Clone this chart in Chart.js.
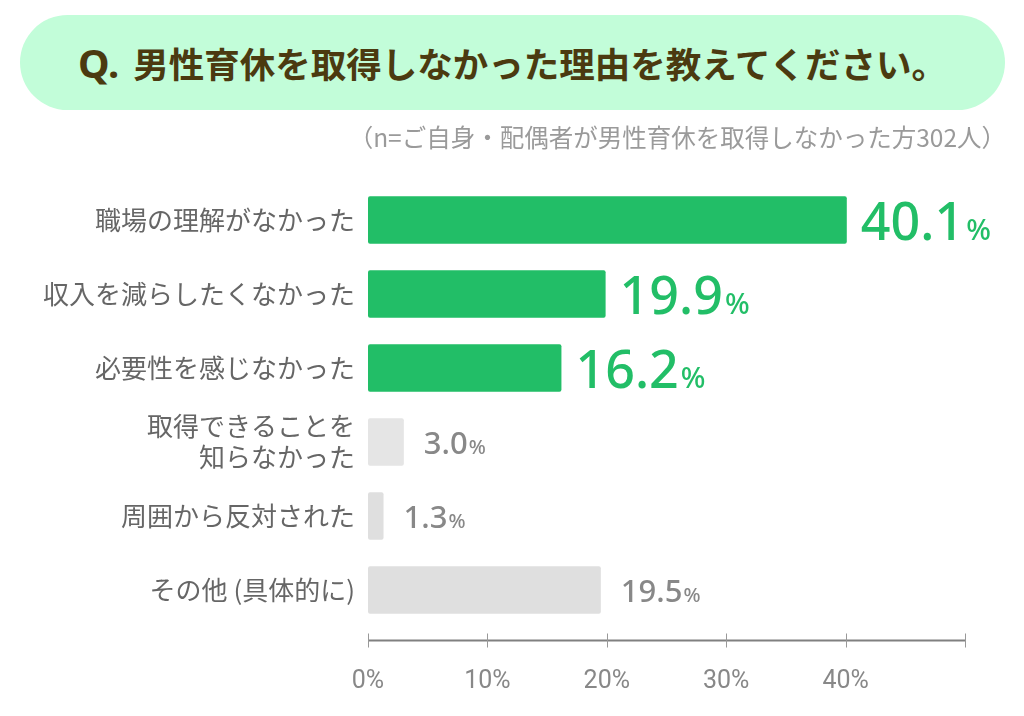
<!DOCTYPE html>
<html lang="ja">
<head>
<meta charset="utf-8">
<script src="https://cdn.jsdelivr.net/npm/chart.js@4/dist/chart.umd.min.js"></script>
<style>
  body { margin: 0; background: #fff; }
  #wrap { position: relative; width: 1024px; height: 716px; overflow: hidden; }
  #chart { position: absolute; left: 0; top: 0; }
  .banner {
    position: absolute; left: 20px; top: 15px; width: 985px; height: 95px;
    border-radius: 48px; background: #c2fdd9;
    display: flex; align-items: center; justify-content: center;
    font-family: "Noto Sans CJK JP", sans-serif; font-weight: bold; color: #4b3a10;
  }
  .banner .q { font-size: 40px; margin-right: 14px; font-family: "Noto Sans", sans-serif; }
  .banner .t { font-size: 35.5px; }
  .note {
    position: absolute; right: 18px; top: 119px;
    font-family: "Noto Sans CJK JP", sans-serif; font-size: 24.5px; color: #9a9a9a;
  }
</style>
</head>
<body>
<div id="wrap">
  <canvas id="chart" width="1024" height="716"></canvas>
  <div class="banner"><span class="q">Q.</span><span class="t">男性育休を取得しなかった理由を教えてください。</span></div>
  <div class="note">（n=ご自身・配偶者が男性育休を取得しなかった方302人）</div>
</div>
<script>
const categories = [
  "職場の理解がなかった",
  "収入を減らしたくなかった",
  "必要性を感じなかった",
  ["取得できることを", "知らなかった"],
  "周囲から反対された",
  "その他 (具体的に)"
]
const percentages = [40.1, 19.9, 16.2, 3.0, 1.3, 19.5]
const xTicks = [0, 10, 20, 30, 40]
const xMax = 50
const highlightCount = 3

const green = "#22be67"
const grayBars = ["#e5e5e5", "#dfdfdf", "#dfdfdf"]
const grayText = "#888888"

const barColors = percentages.map((_, i) => i < highlightCount ? green : grayBars[i - highlightCount])

// axis line with cross ticks, sitting a bit below the plot area
const axisLine = {
  id: "axisLine",
  afterDraw(chart) {
    const { ctx, chartArea } = chart
    const xs = chart.scales.x
    const y0 = chartArea.bottom + 13.5
    ctx.save()
    ctx.strokeStyle = "#808080"
    ctx.lineWidth = 2
    ctx.beginPath()
    ctx.moveTo(xs.getPixelForValue(0), y0)
    ctx.lineTo(xs.getPixelForValue(xMax), y0)
    ctx.stroke()
    ctx.lineWidth = 1
    ctx.strokeStyle = "#999"
    xs.ticks.forEach(t => {
      const px = Math.round(xs.getPixelForValue(t.value)) + 0.5
      ctx.beginPath()
      ctx.moveTo(px, y0 - 7)
      ctx.lineTo(px, y0 + 7)
      ctx.stroke()
    })
    ctx.restore()
  }
}

const valueLabels = {
  id: "valueLabels",
  afterDatasetsDraw(chart) {
    const ctx = chart.ctx
    const meta = chart.getDatasetMeta(0)
    meta.data.forEach((bar, i) => {
      const hi = i < highlightCount
      const num = percentages[i].toFixed(1)
      ctx.save()
      ctx.fillStyle = hi ? green : grayText
      ctx.textBaseline = "alphabetic"
      ctx.textAlign = "left"
      ctx.font = hi ? '500 52px "Noto Sans"' : '500 31px "Noto Sans"'
      let x = bar.x + (hi ? 14 : 20)
      const y = bar.y + (hi ? 19.5 : 11.5)
      ctx.fillText(num, x, y)
      x += ctx.measureText(num).width + (hi ? 2 : 1)
      ctx.font = hi ? '500 29px "Noto Sans"' : '500 20px "Noto Sans"'
      ctx.fillText("%", x, y)
      ctx.restore()
    })
  }
}

new Chart(document.getElementById("chart"), {
  type: "bar",
  data: {
    labels: categories,
    datasets: [{
      data: percentages,
      backgroundColor: barColors,
      borderRadius: 2,
      borderSkipped: false,
      barPercentage: 0.64,
      categoryPercentage: 1
    }]
  },
  options: {
    indexAxis: "y",
    responsive: false,
    animation: false,
    layout: { padding: { top: 183, right: 59, bottom: 0, left: 0 } },
    plugins: { legend: { display: false }, tooltip: { enabled: false } },
    scales: {
      y: {
        afterFit(s) { s.width = 368 },
        grid: { display: false },
        border: { display: false },
        ticks: {
          color: "#666",
          padding: 5,
          font: { family: '"Noto Sans CJK JP", sans-serif', size: 26, lineHeight: 1.2 }
        }
      },
      x: {
        min: 0,
        max: xMax,
        afterFit(s) { s.height = 89 },
        afterBuildTicks(s) { s.ticks = xTicks.concat([xMax]).map(v => ({ value: v })) },
        grid: { display: false },
        border: { display: false },
        ticks: {
          color: "#888",
          padding: 32,
          autoSkip: false,
          maxRotation: 0,
          font: { family: "Roboto, sans-serif", size: 25 },
          callback: v => xTicks.includes(v) ? v + "%" : ""
        }
      }
    }
  },
  plugins: [axisLine, valueLabels]
})
</script>
</body>
</html>
